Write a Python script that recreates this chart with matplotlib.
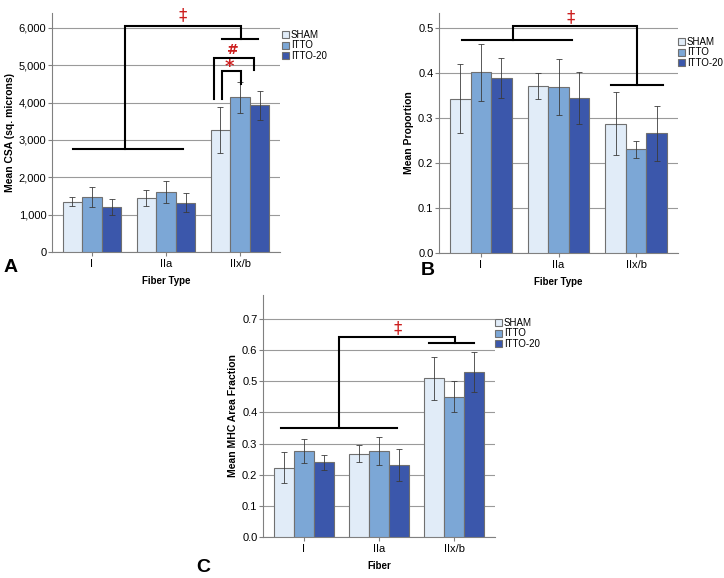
import matplotlib
matplotlib.use('Agg')
import matplotlib.pyplot as plt
import numpy as np
from matplotlib.ticker import FuncFormatter

plt.rcParams['font.family'] = ['Liberation Sans', 'DejaVu Sans']

# Datos
fiber_types = ['I', 'IIa', 'IIx/b']
groups = ['SHAM', 'ITTO', 'ITTO-20']
colors = ['#e1ecf8', '#7ca7d6', '#3b57ab']

# A: Mean CSA (media, limite inferior, limite superior del error)
csa_mean = [[1350, 1450, 3280], [1480, 1620, 4140], [1210, 1310, 3930]]
csa_low = [[1240, 1240, 2660], [1210, 1320, 3710], [990, 1060, 3540]]
csa_high = [[1480, 1670, 3890], [1740, 1910, 4560], [1430, 1570, 4320]]

# B: Mean Proportion
prop_mean = [[0.343, 0.371, 0.288], [0.402, 0.369, 0.231], [0.389, 0.345, 0.266]]
prop_low = [[0.266, 0.342, 0.217], [0.338, 0.307, 0.212], [0.345, 0.287, 0.205]]
prop_high = [[0.420, 0.400, 0.358], [0.465, 0.431, 0.249], [0.433, 0.402, 0.327]]

# C: Mean MHC Area Fraction
mhc_mean = [[0.223, 0.268, 0.510], [0.277, 0.275, 0.450], [0.240, 0.232, 0.530]]
mhc_low = [[0.173, 0.242, 0.441], [0.236, 0.230, 0.401], [0.215, 0.181, 0.467]]
mhc_high = [[0.274, 0.295, 0.577], [0.316, 0.320, 0.500], [0.263, 0.283, 0.593]]

W, H = 724, 578
fig = plt.figure(figsize=(W / 100, H / 100), dpi=100)
RED = '#cc1f1f'


def px_axes(x0, x1, ytop, ybot):
    return fig.add_axes([x0 / W, (H - ybot) / H, (x1 - x0) / W, (ybot - ytop) / H])


def draw_panel(ax, mean, low, high, ylim, yticks, ylabel, xlabel, fmt=None):
    x = np.arange(len(fiber_types))
    width = 0.265
    for i, g in enumerate(groups):
        m = np.array(mean[i])
        err = [m - np.array(low[i]), np.array(high[i]) - m]
        ax.bar(x + (i - 1) * width, m, width, color=colors[i], edgecolor='#707070',
               linewidth=0.8, label=g, zorder=3)
        ax.errorbar(x + (i - 1) * width, m, yerr=err, fmt='none', ecolor='#3a3a3a',
                    elinewidth=0.7, capsize=2.5, capthick=0.7, alpha=0.85, zorder=4)
    ax.set_xlim(-0.54, 2.54)
    ax.set_ylim(*ylim)
    ax.set_yticks(yticks)
    if fmt:
        ax.yaxis.set_major_formatter(FuncFormatter(fmt))
    ax.set_xticks(x)
    ax.set_xticklabels(fiber_types, fontsize=8)
    ax.tick_params(axis='y', labelsize=8, length=3, color='#808080', width=0.8, pad=1)
    ax.tick_params(axis='x', length=3, color='#808080', width=0.8, pad=2)
    ax.grid(axis='y', color='#9a9a9a', linewidth=0.8, zorder=0)
    ax.set_axisbelow(True)
    for s in ['top', 'right']:
        ax.spines[s].set_visible(False)
    for s in ['left', 'bottom']:
        ax.spines[s].set_color('#808080')
        ax.spines[s].set_linewidth(0.8)
    ax.set_ylabel(ylabel, fontsize=7.5, fontweight='bold', labelpad=3)
    ax.set_xlabel(xlabel, fontsize=7, fontweight='bold', labelpad=5)


def add_legend(ax, xpx, ypx):
    ax.legend(loc='upper left', bbox_to_anchor=(xpx / W, (H - ypx) / H),
              bbox_transform=fig.transFigure, frameon=False, fontsize=7,
              handlelength=0.75, handleheight=0.75, handletextpad=0.15,
              labelspacing=0.05, borderpad=0, borderaxespad=0)


def bracket(ax, xs, ys):
    ax.plot(xs, ys, color='black', linewidth=1.5, clip_on=False, zorder=5,
            solid_joinstyle='miter')


def mark(ax, x, y, s, size, weight='bold'):
    ax.text(x, y, s, color=RED, fontsize=size, fontweight=weight,
            ha='center', va='center', family=['DejaVu Sans'])


# ---------------- Panel A ----------------
axA = px_axes(52, 280, 13, 252)
draw_panel(axA, csa_mean, csa_low, csa_high, (0, 6400), np.arange(0, 6001, 1000),
           'Mean CSA (sq. microns)', 'Fiber Type', fmt=lambda v, p: f'{int(v):,}')
add_legend(axA, 282, 30)
bracket(axA, [-0.257, 1.23], [2750, 2750])
bracket(axA, [0.446, 0.446, 2.01, 2.01], [2750, 6050, 6050, 5700])
bracket(axA, [1.757, 2.243], [5700, 5700])
bracket(axA, [1.65, 1.65, 2.19, 2.19], [4110, 5200, 5200, 4880])
bracket(axA, [1.75, 1.75, 2.01, 2.01], [4110, 4840, 4840, 4500])
mark(axA, 1.22, 6330, '‡', 12, 'normal')
mark(axA, 1.91, 5410, '#', 10)
mark(axA, 1.86, 4960, '*', 13)
fig.text(11 / W, (H - 268) / H, 'A', fontsize=14, fontweight='bold', ha='center', va='center')

# ---------------- Panel B ----------------
axB = px_axes(439, 678, 13, 253)
draw_panel(axB, prop_mean, prop_low, prop_high, (0, 0.534), np.arange(0, 0.51, 0.1),
           'Mean Proportion', 'Fiber Type', fmt=lambda v, p: f'{v:.1f}')
add_legend(axB, 678, 37)
bracket(axB, [-0.245, 1.174], [0.475, 0.475])
bracket(axB, [0.413, 0.413, 2.013, 2.013], [0.475, 0.504, 0.504, 0.374])
bracket(axB, [1.677, 2.348], [0.374, 0.374])
mark(axB, 1.16, 0.525, '‡', 12, 'normal')
fig.text(428 / W, (H - 270) / H, 'B', fontsize=14, fontweight='bold', ha='center', va='center')

# ---------------- Panel C ----------------
axC = px_axes(263, 495, 295, 537)
draw_panel(axC, mhc_mean, mhc_low, mhc_high, (0, 0.777), np.arange(0, 0.71, 0.1),
           'Mean MHC Area Fraction', 'Fiber', fmt=lambda v, p: f'{v:.1f}')
add_legend(axC, 495, 318)
bracket(axC, [-0.305, 1.245], [0.350, 0.350])
bracket(axC, [0.464, 0.464, 2.013, 2.013], [0.350, 0.643, 0.643, 0.624])
bracket(axC, [1.669, 2.265], [0.624, 0.624])
mark(axC, 1.245, 0.672, '‡', 12, 'normal')
fig.text(203 / W, (H - 567) / H, 'C', fontsize=14, fontweight='bold', ha='center', va='center')

plt.savefig('out.png', dpi=100)
plt.close()
